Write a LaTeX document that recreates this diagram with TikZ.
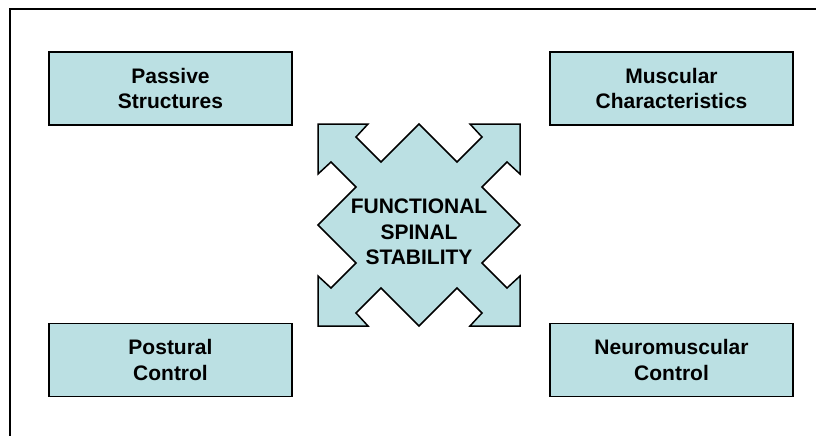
\documentclass[tikz,border=0pt]{standalone}
\usepackage{fontspec}
\setmainfont{Liberation Sans}
\definecolor{boxfill}{RGB}{187,224,227}
\tikzset{
  label text/.style={font=\fontsize{21}{25.5}\selectfont\bfseries, align=center},
  factor box/.style={draw=black, line width=1.5pt, fill=boxfill,
    minimum width=243pt, minimum height=73pt, inner sep=0pt, label text},
  star shape/.style={draw=black, line width=1.5pt, fill=boxfill, line join=miter},
  frame/.style={draw=black, line width=1.6pt}
}
\begin{document}
\begin{tikzpicture}[x=1pt,y=-1pt]
  \useasboundingbox (0,0) rectangle (816,436);
  \clip (0,0) rectangle (816,436);
  \fill[white] (0,0) rectangle (816,436);
  % outer frame, running off the right and bottom edges
  \draw[frame] (10,9) rectangle (840,460);

  % the four factors
  \node[factor box] (passive)  at (170.5,88.5) {Passive\\Structures};
  \node[factor box] (muscular) at (671.5,88.5) {Muscular\\Characteristics};
  \node[factor box] (postural) at (170.5,360)  {Postural\\Control};
  \node[factor box] (neuro)    at (671.5,360)  {Neuromuscular\\Control};

  % central four-way arrow
  \begin{scope}[shift={(419,225)}]
    \draw[star shape]
      (0,-101) -- (38,-63) -- (63,-88) -- (51,-101) -- (101,-101)
      -- (101,-51) -- (88,-63) -- (63,-38) -- (101,0)
      -- (63,38) -- (88,63) -- (101,51) -- (101,101)
      -- (51,101) -- (63,88) -- (38,63) -- (0,101)
      -- (-38,63) -- (-63,88) -- (-51,101) -- (-101,101)
      -- (-101,51) -- (-88,63) -- (-63,38) -- (-101,0)
      -- (-63,-38) -- (-88,-63) -- (-101,-51) -- (-101,-101)
      -- (-51,-101) -- (-63,-88) -- (-38,-63) -- cycle;
  \end{scope}
  \node[label text, inner sep=0pt] (stability) at (419,232) {FUNCTIONAL\\SPINAL\\STABILITY};
\end{tikzpicture}
\end{document}
